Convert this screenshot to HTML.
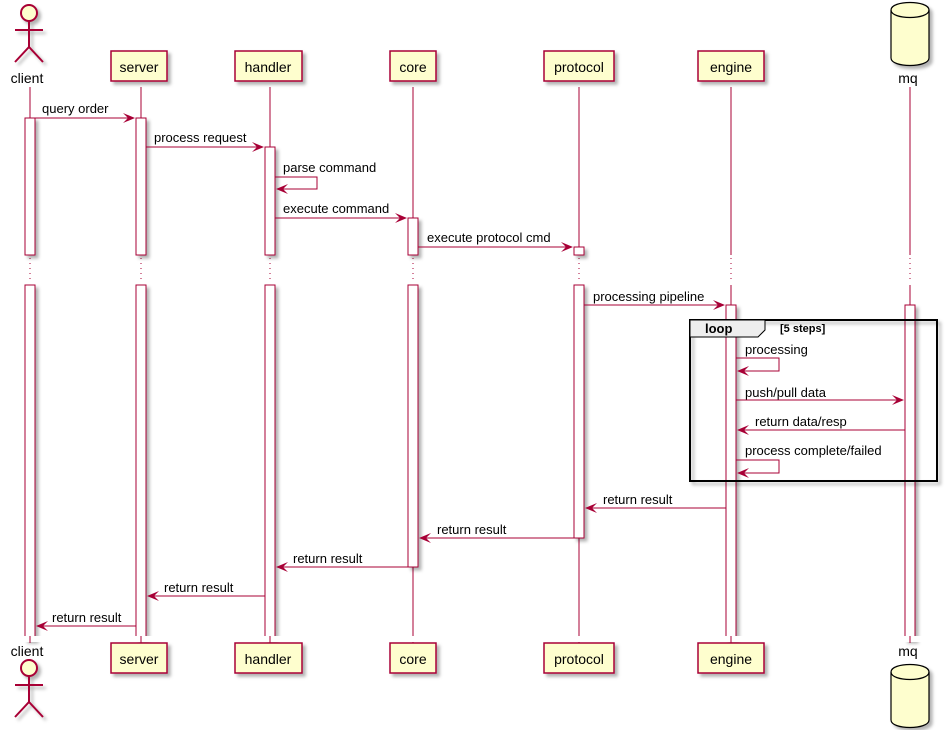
<!DOCTYPE html>
<html><head><meta charset="utf-8"><style>
body{margin:0;background:#fff}
text{font-family:"Liberation Sans",sans-serif;font-size:13px;fill:#000}
.b{font-size:14px}
</style></head><body>
<svg width="947" height="730" xmlns="http://www.w3.org/2000/svg">
<defs>
<filter id="sh" x="-20%" y="-20%" width="150%" height="150%"><feDropShadow dx="3" dy="3" stdDeviation="1.5" flood-color="#000" flood-opacity="0.3"/></filter>
</defs>
<g stroke="#A80036" stroke-width="1" fill="none">
<line x1="30" y1="87" x2="30" y2="255"/><line x1="30" y1="285" x2="30" y2="643"/>
<line x1="141" y1="87" x2="141" y2="255"/><line x1="141" y1="285" x2="141" y2="643"/>
<line x1="270" y1="87" x2="270" y2="255"/><line x1="270" y1="285" x2="270" y2="643"/>
<line x1="413" y1="87" x2="413" y2="255"/><line x1="413" y1="285" x2="413" y2="643"/>
<line x1="579" y1="87" x2="579" y2="255"/><line x1="579" y1="285" x2="579" y2="643"/>
<line x1="731" y1="87" x2="731" y2="255"/><line x1="731" y1="285" x2="731" y2="643"/>
<line x1="910" y1="87" x2="910" y2="255"/><line x1="910" y1="285" x2="910" y2="643"/>
</g>
<g fill="#fff" stroke="none">
<rect x="20" y="256" width="910" height="28"/>
</g>
<g stroke="#A80036" stroke-dasharray="1,4">
<line x1="30" y1="258" x2="30" y2="283"/><line x1="141" y1="258" x2="141" y2="283"/><line x1="270" y1="258" x2="270" y2="283"/><line x1="413" y1="258" x2="413" y2="283"/><line x1="579" y1="258" x2="579" y2="283"/><line x1="731" y1="258" x2="731" y2="283"/><line x1="910" y1="258" x2="910" y2="283"/>
</g>
<!-- activations -->
<g fill="#fff" stroke="#A80036" filter="url(#sh)">
<rect x="25" y="118" width="10" height="137"/><rect x="25" y="285" width="10" height="355"/>
<rect x="136" y="118" width="10" height="137"/><rect x="136" y="285" width="10" height="355"/>
<rect x="265" y="147" width="10" height="108"/><rect x="265" y="285" width="10" height="355"/>
<rect x="408" y="218" width="10" height="37"/><rect x="408" y="285" width="10" height="282"/>
<rect x="574" y="247" width="10" height="8"/><rect x="574" y="285" width="10" height="253"/>
<rect x="726" y="305" width="10" height="335"/>
<rect x="905" y="305" width="10" height="335"/>
</g>
<!-- hide bottoms of activations beyond 635 -->
<g fill="#fff"><rect x="20" y="636" width="910" height="6"/></g>
<g stroke="#A80036"><line x1="30" y1="636" x2="30" y2="643"/><line x1="141" y1="636" x2="141" y2="643"/><line x1="270" y1="636" x2="270" y2="643"/><line x1="731" y1="636" x2="731" y2="643"/><line x1="910" y1="636" x2="910" y2="643"/></g>
<!-- loop -->
<g filter="url(#sh)"><rect x="690" y="320" width="247" height="161" fill="none" stroke="#000" stroke-width="2"/></g>
<path d="M690 320H765V330L758 337H690Z" fill="#eee" stroke="#000" stroke-width="1"/>
<text x="705" y="333" style="font-weight:bold">loop</text>
<text x="780" y="332" style="font-weight:bold;font-size:11px">[5 steps]</text>
<g fill="#FEFECE" stroke="#A80036" stroke-width="1.5" filter="url(#sh)">
<rect x="111" y="51" width="56" height="30"/><rect x="235" y="51" width="67" height="30"/><rect x="390" y="51" width="46" height="30"/><rect x="544" y="51" width="70" height="30"/><rect x="698" y="51" width="66" height="30"/>
<rect x="111" y="643" width="56" height="30"/><rect x="235" y="643" width="67" height="30"/><rect x="390" y="643" width="46" height="30"/><rect x="544" y="643" width="70" height="30"/><rect x="698" y="643" width="66" height="30"/>
</g>
<text x="139" y="72" text-anchor="middle" class="b">server</text><text x="268" y="72" text-anchor="middle" class="b">handler</text><text x="413" y="72" text-anchor="middle" class="b">core</text><text x="579" y="72" text-anchor="middle" class="b">protocol</text><text x="731" y="72" text-anchor="middle" class="b">engine</text>
<text x="139" y="664" text-anchor="middle" class="b">server</text><text x="268" y="664" text-anchor="middle" class="b">handler</text><text x="413" y="664" text-anchor="middle" class="b">core</text><text x="579" y="664" text-anchor="middle" class="b">protocol</text><text x="731" y="664" text-anchor="middle" class="b">engine</text>
<text x="27" y="83" text-anchor="middle" class="b">client</text><text x="27" y="656" text-anchor="middle" class="b">client</text>
<text x="908" y="83" text-anchor="middle" class="b">mq</text><text x="908" y="656" text-anchor="middle" class="b">mq</text>
<g fill="none" stroke="#A80036" stroke-width="2" filter="url(#sh)">
<circle cx="29" cy="13" r="8" fill="#FEFECE"/><path d="M29 21V47M15 30H43M15 62L29 47L43 62"/>
<circle cx="29" cy="668" r="8" fill="#FEFECE"/><path d="M29 676V702M15 685H43M15 717L29 702L43 717"/>
</g>
<g fill="#FEFECE" stroke="#000" stroke-width="1.2" filter="url(#sh)">
<path d="M891 10C891 0 929 0 929 10V58C929 68 891 68 891 58Z"/><path d="M891 10C891 20 929 20 929 10" fill="none"/>
<path d="M891 672C891 662 929 662 929 672V720C929 730 891 730 891 720Z"/><path d="M891 672C891 682 929 682 929 672" fill="none"/>
</g>
<g stroke="#A80036" fill="none">
<line x1="35" y1="118" x2="134" y2="118"/>
<line x1="146" y1="147" x2="263" y2="147"/>
<path d="M275 177H317V189H277"/>
<line x1="275" y1="218" x2="406" y2="218"/>
<line x1="418" y1="247" x2="572" y2="247"/>
<line x1="584" y1="305" x2="724" y2="305"/>
<path d="M736 358H779V371H738"/>
<line x1="736" y1="400" x2="903" y2="400"/>
<line x1="905" y1="430" x2="738" y2="430"/>
<path d="M736 460H779V473H738"/>
<line x1="726" y1="508" x2="586" y2="508"/>
<line x1="574" y1="538" x2="420" y2="538"/>
<line x1="408" y1="567" x2="277" y2="567"/>
<line x1="265" y1="596" x2="148" y2="596"/>
<line x1="136" y1="626" x2="37" y2="626"/>
</g>
<g fill="#A80036">
<path d="M135 118l-12-5 5 5-5 5z"/><path d="M264 147l-12-5 5 5-5 5z"/><path d="M407 218l-12-5 5 5-5 5z"/><path d="M573 247l-12-5 5 5-5 5z"/><path d="M725 305l-12-5 5 5-5 5z"/><path d="M904 400l-12-5 5 5-5 5z"/>
<path d="M276 189l12-5-5 5 5 5z"/><path d="M737 371l12-5-5 5 5 5z"/><path d="M737 473l12-5-5 5 5 5z"/><path d="M737 430l12-5-5 5 5 5z"/>
<path d="M585 508l12-5-5 5 5 5z"/><path d="M419 538l12-5-5 5 5 5z"/><path d="M276 567l12-5-5 5 5 5z"/><path d="M147 596l12-5-5 5 5 5z"/><path d="M36 626l12-5-5 5 5 5z"/>
</g>
<text x="42" y="113">query order</text>
<text x="154" y="142">process request</text>
<text x="283" y="172">parse command</text>
<text x="283" y="213">execute command</text>
<text x="427" y="242">execute protocol cmd</text>
<text x="593" y="301">processing pipeline</text>
<text x="745" y="354">processing</text>
<text x="745" y="397">push/pull data</text>
<text x="755" y="426">return data/resp</text>
<text x="745" y="455">process complete/failed</text>
<text x="603" y="504">return result</text>
<text x="437" y="534">return result</text>
<text x="293" y="563">return result</text>
<text x="164" y="592">return result</text>
<text x="52" y="622">return result</text>
</svg>
</body></html>
